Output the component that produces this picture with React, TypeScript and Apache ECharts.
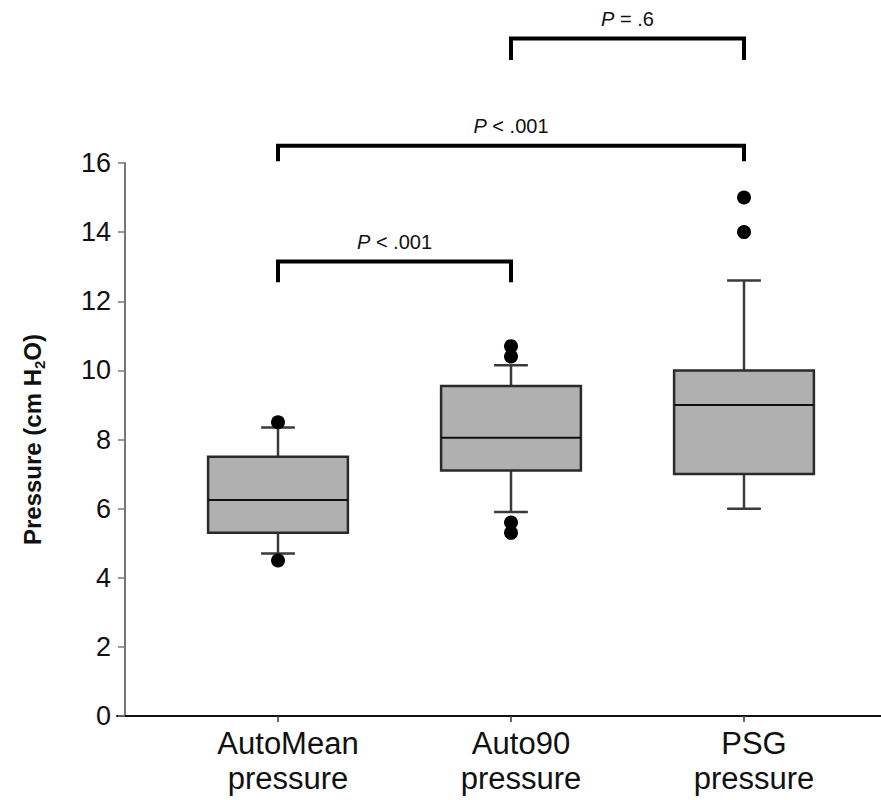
import React, { useEffect, useRef } from 'react';
import * as echarts from 'echarts';

const categories = ['AutoMean\npressure', 'Auto90\npressure', 'PSG\npressure'];
const categoryPositions = [1, 2, 3];
const whiskerLow = [4.7, 5.9, 6.0];
const q1 = [5.3, 7.1, 7.0];
const median = [6.25, 8.05, 9.0];
const q3 = [7.5, 9.55, 10.0];
const whiskerHigh = [8.35, 10.15, 12.6];
const outlierCategory = [1, 1, 2, 2, 2, 2, 3, 3];
const outlierValue = [8.5, 4.5, 10.7, 10.4, 5.6, 5.3, 15, 14];
const bracketFrom = [1, 1, 2];
const bracketTo = [2, 3, 3];
const bracketTop = [13.15, 16.5, 19.6];
const bracketBottom = [12.55, 16.05, 18.98];
const bracketLabels = ['< .001', '< .001', '= .6'];

const FONT = '"Liberation Sans", Arial, sans-serif';

export default function App() {
  const ref = useRef<HTMLDivElement>(null);
  useEffect(() => {
    if (!ref.current) return;
    const chart = echarts.init(ref.current, undefined, { renderer: 'svg' });
    const boxData = categoryPositions.map((c, i) => [c, whiskerLow[i], q1[i], median[i], q3[i], whiskerHigh[i]]);
    const outlierData = outlierCategory.map((c, i) => [c, outlierValue[i]]);
    const bracketData = bracketFrom.map((f, i) => [f, bracketTo[i], bracketTop[i], bracketBottom[i], i]);

    chart.setOption({
      animation: false,
      backgroundColor: '#ffffff',
      grid: { left: 117, right: 0, top: 163, bottom: 84, containLabel: false },
      xAxis: {
        type: 'value',
        min: 0.309,
        max: 3.588,
        splitLine: { show: false },
        axisLine: { show: true, lineStyle: { color: '#111', width: 2 } },
        axisTick: { show: true, customValues: categoryPositions, length: 6, lineStyle: { color: '#333', width: 1.5 } },
        axisLabel: {
          customValues: categoryPositions,
          formatter: (v: number) => {
            const idx = categoryPositions.indexOf(Math.round(v));
            return idx >= 0 ? categories[idx] : '';
          },
          fontFamily: FONT,
          fontSize: 31,
          lineHeight: 35,
          color: '#111',
          margin: 10,
          padding: [0, 0, 0, 20],
        },
      },
      yAxis: {
        type: 'value',
        min: 0,
        max: 16,
        interval: 2,
        offset: -8,
        splitLine: { show: false },
        axisLine: { show: true, lineStyle: { color: '#777', width: 2 } },
        axisTick: { show: true, length: 7, lineStyle: { color: '#777', width: 1.5 } },
        axisLabel: { fontFamily: FONT, fontSize: 27, color: '#111', margin: 14 },
        name: '{a|Pressure (cm H}{s|2}{a|O)}',
        nameLocation: 'middle',
        nameGap: 78,
        nameRotate: 90,
        nameTextStyle: {
          rich: {
            a: { fontFamily: FONT, fontSize: 24, fontWeight: 'bold', color: '#111', lineHeight: 30 },
            s: { fontFamily: FONT, fontSize: 15, fontWeight: 'bold', color: '#111', lineHeight: 30, verticalAlign: 'bottom' },
          },
        },
      },
      series: [
        {
          type: 'custom',
          name: 'box',
          data: boxData,
          encode: { x: 0, y: [1, 2, 3, 4, 5] },
          renderItem: (params: any, api: any) => {
            const x = api.value(0);
            const pLow = api.coord([x, api.value(1)]);
            const pQ1 = api.coord([x, api.value(2)]);
            const pMed = api.coord([x, api.value(3)]);
            const pQ3 = api.coord([x, api.value(4)]);
            const pHigh = api.coord([x, api.value(5)]);
            const bw = api.size([0.6, 0])[0];
            const cw = api.size([0.145, 0])[0];
            const cx = pMed[0];
            const whisk = { stroke: '#3a3a3a', lineWidth: 2.5 };
            return {
              type: 'group',
              children: [
                { type: 'line', shape: { x1: cx, y1: pQ3[1], x2: cx, y2: pHigh[1] }, style: whisk },
                { type: 'line', shape: { x1: cx, y1: pQ1[1], x2: cx, y2: pLow[1] }, style: whisk },
                { type: 'line', shape: { x1: cx - cw / 2, y1: pHigh[1], x2: cx + cw / 2, y2: pHigh[1] }, style: whisk },
                { type: 'line', shape: { x1: cx - cw / 2, y1: pLow[1], x2: cx + cw / 2, y2: pLow[1] }, style: whisk },
                {
                  type: 'rect',
                  shape: { x: cx - bw / 2, y: pQ3[1], width: bw, height: pQ1[1] - pQ3[1] },
                  style: { fill: '#b0b0b0', stroke: '#2a2a2a', lineWidth: 2.5 },
                },
                { type: 'line', shape: { x1: cx - bw / 2, y1: pMed[1], x2: cx + bw / 2, y2: pMed[1] }, style: { stroke: '#111', lineWidth: 2 } },
              ],
            };
          },
          z: 2,
        },
        {
          type: 'scatter',
          name: 'outliers',
          data: outlierData,
          symbol: 'circle',
          symbolSize: 14,
          itemStyle: { color: '#000', opacity: 1 },
          z: 3,
        },
        {
          type: 'custom',
          name: 'brackets',
          data: bracketData,
          encode: { x: [0, 1], y: [2, 3] },
          clip: false,
          renderItem: (params: any, api: any) => {
            const a = api.coord([api.value(0), api.value(2)]);
            const b = api.coord([api.value(1), api.value(2)]);
            const bottom = api.coord([api.value(0), api.value(3)]);
            const i = api.value(4);
            const st = { stroke: '#000', lineWidth: 4, fill: null };
            return {
              type: 'group',
              children: [
                {
                  type: 'polyline',
                  shape: { points: [[a[0], bottom[1]], [a[0], a[1]], [b[0], b[1]], [b[0], bottom[1]]] },
                  style: st,
                },
                {
                  type: 'text',
                  x: (a[0] + b[0]) / 2,
                  y: a[1] - 10,
                  style: {
                    text: '{i|P} {n|' + bracketLabels[i] + '}',
                    align: 'center',
                    verticalAlign: 'bottom',
                    fontFamily: FONT,
                    fontSize: 20,
                    fill: '#111',
                    rich: {
                      i: { fontFamily: FONT, fontSize: 20, fontStyle: 'italic', fill: '#111', color: '#111' },
                      n: { fontFamily: FONT, fontSize: 20, fill: '#111', color: '#111' },
                    },
                  },
                },
              ],
            };
          },
          z: 4,
        },
      ],
    });
    return () => chart.dispose();
  }, []);
  return <div ref={ref} style={{ position: 'fixed', left: 0, top: 0, width: 881, height: 800, background: '#fff' }} />;
}
